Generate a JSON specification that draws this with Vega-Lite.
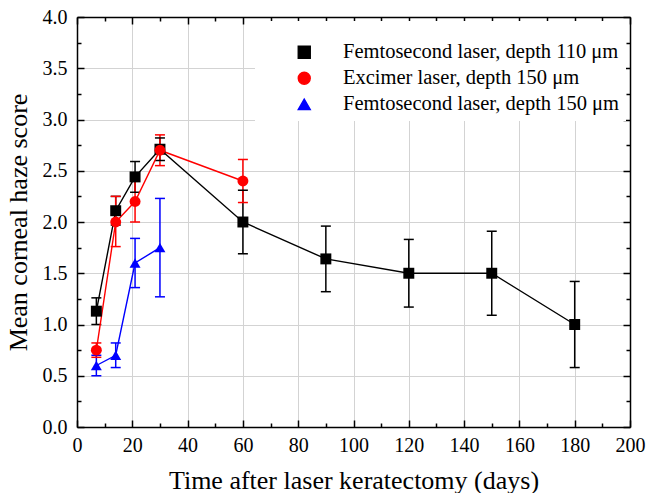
{
  "$schema": "https://vega.github.io/schema/vega-lite/v6.json",
  "width": 553,
  "height": 410,
  "autosize": {"type": "none"},
  "padding": {"left": 77, "top": 17, "right": 17, "bottom": 66},
  "background": "white",
  "config": {
    "view": {"stroke": null},
    "font": "Liberation Serif",
    "axis": {"labelFont": "Liberation Serif", "titleFont": "Liberation Serif", "labelColor": "black", "titleColor": "black", "titleFontWeight": "normal", "labelFontSize": 20, "titleFontSize": 26, "domainColor": "black", "tickColor": "black", "domainWidth": 1.5, "tickWidth": 1.5, "gridColor": "#d3d3d3", "gridWidth": 1, "gridOpacity": 1}
  },
  "data": {
    "values": [
      {"series": "Femtosecond laser, depth 110 μm", "day": 7, "score": 1.13, "lo": 1.0, "hi": 1.26},
      {"series": "Femtosecond laser, depth 110 μm", "day": 14, "score": 2.11, "lo": 1.97, "hi": 2.25},
      {"series": "Femtosecond laser, depth 110 μm", "day": 21, "score": 2.44, "lo": 2.29, "hi": 2.59},
      {"series": "Femtosecond laser, depth 110 μm", "day": 30, "score": 2.71, "lo": 2.6, "hi": 2.82},
      {"series": "Femtosecond laser, depth 110 μm", "day": 60, "score": 2.0, "lo": 1.69, "hi": 2.31},
      {"series": "Femtosecond laser, depth 110 μm", "day": 90, "score": 1.64, "lo": 1.32, "hi": 1.96},
      {"series": "Femtosecond laser, depth 110 μm", "day": 120, "score": 1.5, "lo": 1.17, "hi": 1.83},
      {"series": "Femtosecond laser, depth 110 μm", "day": 150, "score": 1.5, "lo": 1.09, "hi": 1.91},
      {"series": "Femtosecond laser, depth 110 μm", "day": 180, "score": 1.0, "lo": 0.58, "hi": 1.42},
      {"series": "Excimer laser, depth 150 μm", "day": 7, "score": 0.75, "lo": 0.68, "hi": 0.82},
      {"series": "Excimer laser, depth 150 μm", "day": 14, "score": 2.0, "lo": 1.76, "hi": 2.25},
      {"series": "Excimer laser, depth 150 μm", "day": 21, "score": 2.2, "lo": 2.0, "hi": 2.4},
      {"series": "Excimer laser, depth 150 μm", "day": 30, "score": 2.7, "lo": 2.55, "hi": 2.85},
      {"series": "Excimer laser, depth 150 μm", "day": 60, "score": 2.4, "lo": 2.19, "hi": 2.61},
      {"series": "Femtosecond laser, depth 150 μm", "day": 7, "score": 0.6, "lo": 0.5, "hi": 0.7},
      {"series": "Femtosecond laser, depth 150 μm", "day": 14, "score": 0.7, "lo": 0.58, "hi": 0.82},
      {"series": "Femtosecond laser, depth 150 μm", "day": 21, "score": 1.6, "lo": 1.36, "hi": 1.84},
      {"series": "Femtosecond laser, depth 150 μm", "day": 30, "score": 1.75, "lo": 1.27, "hi": 2.23}
    ]
  },
  "layer": [
    {
      "mark": {"type": "rule", "strokeWidth": 1.5},
      "encoding": {
        "x": {"field": "day", "type": "quantitative", "scale": {"domain": [0, 200], "nice": false},
              "axis": {"orient": "bottom", "values": [0,20,40,60,80,100,120,140,160,180,200], "tickSize": -7, "labelPadding": 15, "grid": true, "title": "Time after laser keratectomy (days)", "titlePadding": 12, "labelFlush": false}},
        "y": {"field": "lo", "type": "quantitative", "scale": {"domain": [0, 4], "nice": false},
              "axis": {"orient": "left", "values": [0,0.5,1,1.5,2,2.5,3,3.5,4], "format": ".1f", "tickSize": -7, "labelPadding": 17, "grid": true, "title": "Mean corneal haze score", "titlePadding": 11, "labelFlush": false}},
        "y2": {"field": "hi"},
        "color": {"field": "series", "type": "nominal", "scale": {"domain": ["Femtosecond laser, depth 110 μm", "Excimer laser, depth 150 μm", "Femtosecond laser, depth 150 μm"], "range": ["black", "#ff0000", "#0000ff"]},
          "legend": {"title": " ", "labelFont": "Liberation Serif", "labelFontSize": 20.5, "labelColor": "black", "labelLimit": 500, "symbolSize": 144, "padding": 6, "fillColor": "white", "symbolOffset": 33, "labelOffset": 28.5, "rowPadding": 5, "titleFont": "Liberation Serif", "titleFontSize": 12, "titlePadding": 3, "orient": "top-right", "offset": 4,
            "encode": {"symbols": {"update": {
              "shape": {"signal": "datum.value === 'Excimer laser, depth 150 μm' ? 'M-4,0H4M1,0A1,1,0,1,1,-1,0A1,1,0,1,1,1,0Z' : datum.value === 'Femtosecond laser, depth 150 μm' ? 'M-4,0H4M0,-1L1.05,0.85H-1.05Z' : 'M-4,0H4M-0.85,-0.85H0.85V0.85H-0.85Z'"},
              "fill": {"signal": "datum.value === 'Excimer laser, depth 150 μm' ? '#ff0000' : datum.value === 'Femtosecond laser, depth 150 μm' ? '#0000ff' : 'black'"},
              "stroke": {"signal": "datum.value === 'Excimer laser, depth 150 μm' ? '#ff0000' : datum.value === 'Femtosecond laser, depth 150 μm' ? '#0000ff' : 'black'"},
              "strokeWidth": {"value": 1.4},
              "opacity": {"value": 1}
            }}}}}
      }
    },
    {
      "mark": {"type": "tick", "orient": "horizontal", "size": 10, "thickness": 1.5, "opacity": 1},
      "encoding": {
        "x": {"field": "day", "type": "quantitative", "axis": {"orient": "top", "values": [0,20,40,60,80,100,120,140,160,180,200], "tickSize": -7, "labels": false, "grid": false, "title": null}},
        "y": {"field": "lo", "type": "quantitative", "axis": {"orient": "right", "values": [0,0.5,1,1.5,2,2.5,3,3.5,4], "tickSize": -7, "labels": false, "grid": false, "title": null}},
        "color": {"field": "series", "type": "nominal"}
      }
    },
    {
      "mark": {"type": "tick", "orient": "horizontal", "size": 10, "thickness": 1.5, "opacity": 1},
      "encoding": {
        "x": {"field": "day", "type": "quantitative", "axis": {"orient": "bottom", "values": [10,30,50,70,90,110,130,150,170,190], "tickSize": -4, "labels": false, "grid": false, "title": null, "domain": false}},
        "y": {"field": "hi", "type": "quantitative", "axis": {"orient": "left", "values": [0.25,0.75,1.25,1.75,2.25,2.75,3.25,3.75], "tickSize": -4, "labels": false, "grid": false, "title": null, "domain": false}},
        "color": {"field": "series", "type": "nominal"}
      }
    },
    {
      "mark": {"type": "line", "strokeWidth": 1.4},
      "encoding": {
        "x": {"field": "day", "type": "quantitative", "axis": {"orient": "top", "values": [10,30,50,70,90,110,130,150,170,190], "tickSize": -4, "labels": false, "grid": false, "title": null, "domain": false}},
        "y": {"field": "score", "type": "quantitative", "axis": {"orient": "right", "values": [0.25,0.75,1.25,1.75,2.25,2.75,3.25,3.75], "tickSize": -4, "labels": false, "grid": false, "title": null, "domain": false}},
        "color": {"field": "series", "type": "nominal"},
        "detail": {"field": "series"}
      }
    },
    {
      "mark": {"type": "point", "filled": true, "opacity": 1, "size": 120},
      "encoding": {
        "x": {"field": "day", "type": "quantitative", "axis": null},
        "y": {"field": "score", "type": "quantitative", "axis": null},
        "color": {"field": "series", "type": "nominal"},
        "shape": {"field": "series", "type": "nominal", "scale": {"domain": ["Femtosecond laser, depth 110 μm", "Excimer laser, depth 150 μm", "Femtosecond laser, depth 150 μm"], "range": ["square", "circle", "triangle-up"]}}
      }
    }
  ],
  "resolve": {"axis": {"x": "independent", "y": "independent"}}
}
